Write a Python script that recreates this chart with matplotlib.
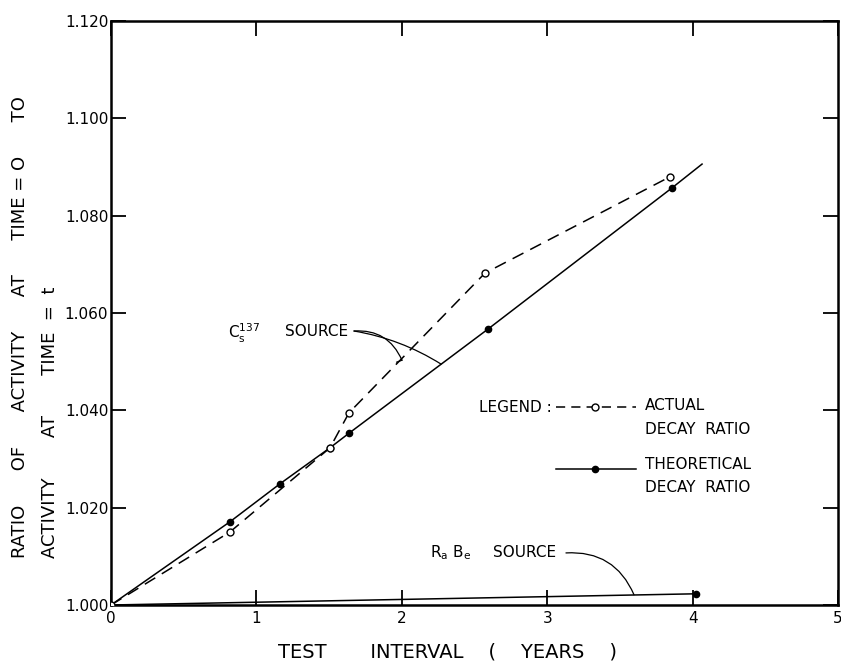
import matplotlib
matplotlib.use("Agg")
import matplotlib.pyplot as plt

# theoretical decay ratio, Cs-137 source
theo_x = [0.0, 0.818, 1.162, 1.506, 1.637, 2.593, 3.858]
theo_y = [1.000, 1.0171, 1.0249, 1.0323, 1.0353, 1.0567, 1.0857]
# straight line carried on past the last point
theo_end = (4.065, 1.0906)

# actual (measured) decay ratio, Cs-137 source
act_x = [0.0, 0.818, 1.506, 1.637, 2.572, 3.845]
act_y = [1.000, 1.0150, 1.0323, 1.0395, 1.0682, 1.0880]

# Ra-Be source
rabe_x = [0.0, 4.02]
rabe_y = [1.000, 1.0023]

xticks = [0, 1, 2, 3, 4, 5]
xtick_labels = ["0", "1", "2", "3", "4", "5"]
yticks = [1.000, 1.020, 1.040, 1.060, 1.080, 1.100, 1.120]
ytick_labels = ["1.000", "1.020", "1.040", "1.060", "1.080", "1.100", "1.120"]

plt.rcParams["font.family"] = ["DejaVu Sans"]

fig = plt.figure(figsize=(8.41, 6.63), dpi=100)
ax = fig.add_axes([111 / 841, 58 / 663, 727 / 841, 584 / 663])

# curves
ax.plot(theo_x, theo_y, "-", color="black", lw=1.1, marker="o", ms=4.5,
        mfc="black", mec="black", zorder=3)
ax.plot([theo_x[-1], theo_end[0]], [theo_y[-1], theo_end[1]], "-", color="black", lw=1.1)
ax.plot(act_x, act_y, color="black", lw=1.1, dashes=[8, 5], marker="o", ms=5,
        mfc="white", mec="black", mew=1.0, zorder=4)
ax.plot(rabe_x, rabe_y, "-", color="black", lw=1.1)
ax.plot(rabe_x[-1:], rabe_y[-1:], "o", color="black", ms=4.5)

ax.set_xlim(0, 5)
ax.set_ylim(1.000, 1.120)
ax.set_xticks(xticks)
ax.set_xticklabels(xtick_labels)
ax.set_yticks(yticks)
ax.set_yticklabels(ytick_labels)
ax.tick_params(direction="in", length=11, width=1.3, top=True, right=True,
               labelsize=11, labelcolor="black", pad=4)
ax.tick_params(axis="y", pad=2)
for s in ax.spines.values():
    s.set_linewidth(1.8)

# annotations
txt = dict(fontsize=11, va="center", ha="left")
ax.text(0.805, 1.0559, r"C$_\mathregular{s}^\mathregular{137}$", **txt)
ax.text(1.197, 1.0563, "SOURCE", **txt)
ax.annotate("", xy=(2.001, 1.0503), xytext=(1.671, 1.0563),
            arrowprops=dict(arrowstyle="-", lw=0.9, shrinkA=0, shrinkB=0,
                            connectionstyle="arc3,rad=-0.35"))
ax.plot([1.965, 2.001], [1.0499, 1.0503], color="black", lw=0.9)
ax.annotate("", xy=(2.270, 1.0495), xytext=(1.671, 1.0563),
            arrowprops=dict(arrowstyle="-", lw=0.9, shrinkA=0, shrinkB=0,
                            connectionstyle="arc3,rad=-0.1"))

ax.text(2.194, 1.0107, r"R$_\mathregular{a}$ B$_\mathregular{e}$", **txt)
ax.text(2.627, 1.0107, "SOURCE", **txt)
ax.annotate("", xy=(3.597, 1.0021), xytext=(3.129, 1.0107),
            arrowprops=dict(arrowstyle="-", lw=0.9, shrinkA=0, shrinkB=0,
                            connectionstyle="arc3,rad=-0.35"))

# hand-built legend
tr = ax.transAxes
ax.text(0.506, 0.339, "LEGEND :", transform=tr, **txt)
ax.plot([0.612, 0.722], [0.339, 0.339], transform=tr, color="black", lw=1.1,
        dashes=[6, 4])
ax.plot([0.666], [0.339], transform=tr, marker="o", ms=5, mfc="white",
        mec="black", mew=1.0, zorder=5)
ax.text(0.7345, 0.341, "ACTUAL", transform=tr, **txt)
ax.text(0.7345, 0.301, "DECAY  RATIO", transform=tr, **txt)
ax.plot([0.612, 0.722], [0.233, 0.233], transform=tr, color="black", lw=1.1)
ax.plot([0.666], [0.233], transform=tr, marker="o", ms=4.5, color="black")
ax.text(0.7345, 0.240, "THEORETICAL", transform=tr, **txt)
ax.text(0.7345, 0.202, "DECAY  RATIO", transform=tr, **txt)

# axis titles
fig.text(448 / 841, 1 - 652 / 663, "TEST       INTERVAL    (    YEARS    )",
         ha="center", va="center", fontsize=14)
fig.text(20 / 841, 1 - 558 / 663,
         "RATIO      OF      ACTIVITY      AT      TIME = O      TO",
         rotation=90, rotation_mode="anchor", ha="left", va="center", fontsize=13)
fig.text(50 / 841, 1 - 558 / 663, "ACTIVITY       AT       TIME  =  t",
         rotation=90, rotation_mode="anchor", ha="left", va="center", fontsize=13)

fig.savefig("out.png", dpi=100)
